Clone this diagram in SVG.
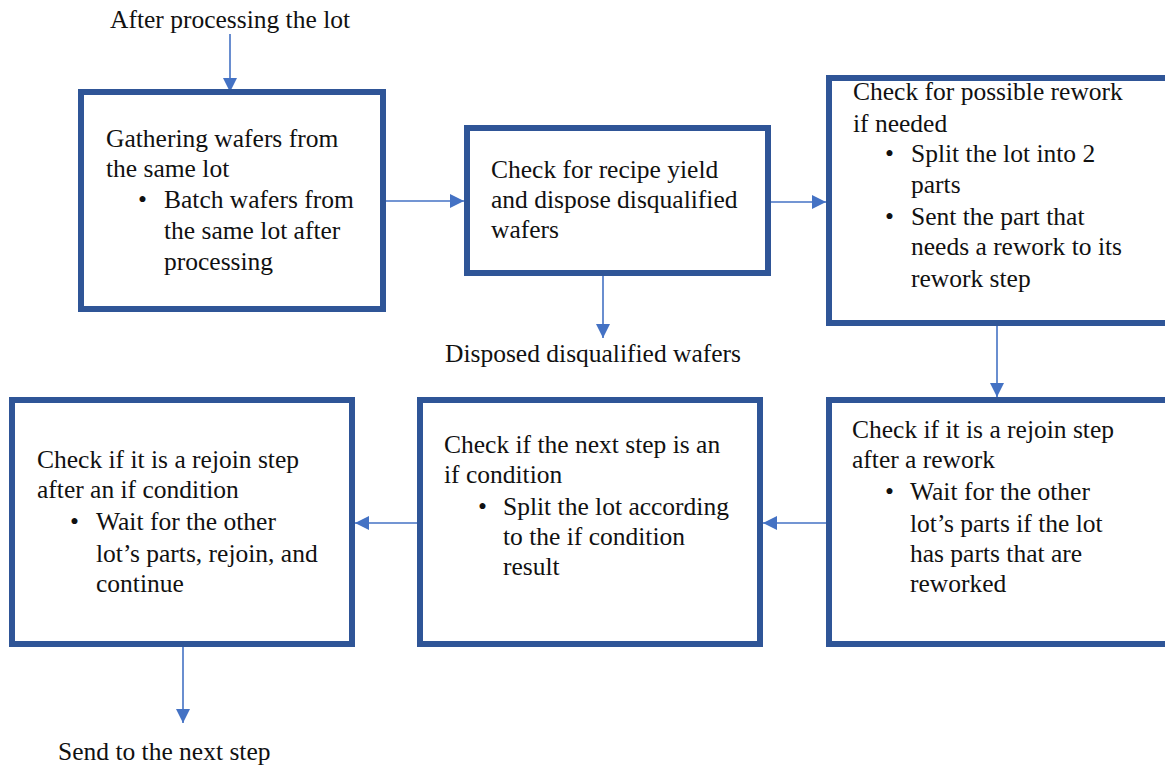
<svg xmlns="http://www.w3.org/2000/svg" width="1165" height="767" viewBox="0 0 1165 767">
<style>
.box{fill:#fff;stroke:#2F5597;stroke-width:6}
.t{font-family:"Liberation Serif","Times New Roman",serif;font-size:25.5px;fill:#111}
.c{stroke:#4472C4;stroke-width:1.6;fill:none}
</style>
<defs>
<marker id="ah" markerUnits="userSpaceOnUse" markerWidth="16" markerHeight="16" viewBox="0 0 16 16" refX="15" refY="8" orient="auto">
<path d="M1,1 L15,8 L1,15 Z" fill="#4472C4"/>
</marker>
</defs>
<rect width="1165" height="767" fill="#fff"/>
<g id="connectors">
<line class="c" x1="230" y1="34" x2="230" y2="92" marker-end="url(#ah)"/>
<line class="c" x1="386" y1="201" x2="464" y2="201" marker-end="url(#ah)"/>
<line class="c" x1="771" y1="202" x2="826" y2="202" marker-end="url(#ah)"/>
<line class="c" x1="603" y1="276" x2="603" y2="338" marker-end="url(#ah)"/>
<line class="c" x1="997" y1="326" x2="997" y2="397" marker-end="url(#ah)"/>
<line class="c" x1="826" y1="523" x2="763" y2="523" marker-end="url(#ah)"/>
<line class="c" x1="417" y1="523" x2="355" y2="523" marker-end="url(#ah)"/>
<line class="c" x1="183" y1="647" x2="183" y2="723" marker-end="url(#ah)"/>
</g>
<g id="label-start"><text class="t" x="110" y="28">After processing the lot</text></g>
<g id="box1">
<rect class="box" x="81" y="92" width="302" height="217"/>
<text class="t" x="106" y="147">Gathering wafers from</text>
<text class="t" x="106" y="177">the same lot</text>
<text class="t" x="138" y="208">•</text>
<text class="t" x="164" y="208">Batch wafers from</text>
<text class="t" x="164" y="239">the same lot after</text>
<text class="t" x="164" y="270">processing</text>
</g>
<g id="box2">
<rect class="box" x="467" y="128" width="301" height="145"/>
<text class="t" x="491" y="178">Check for recipe yield</text>
<text class="t" x="491" y="208">and dispose disqualified</text>
<text class="t" x="491" y="238">wafers</text>
</g>
<g id="label-disposed"><text class="t" x="445" y="362">Disposed disqualified wafers</text></g>
<g id="box3">
<rect class="box" x="829" y="78" width="340" height="245"/>
<text class="t" x="853" y="100">Check for possible rework</text>
<text class="t" x="853" y="132">if needed</text>
<text class="t" x="885" y="162">•</text>
<text class="t" x="911" y="162">Split the lot into 2</text>
<text class="t" x="911" y="193">parts</text>
<text class="t" x="885" y="225">•</text>
<text class="t" x="911" y="225">Sent the part that</text>
<text class="t" x="911" y="255">needs a rework to its</text>
<text class="t" x="911" y="287">rework step</text>
</g>
<g id="box4">
<rect class="box" x="829" y="400" width="340" height="244"/>
<text class="t" x="852" y="438">Check if it is a rejoin step</text>
<text class="t" x="852" y="468">after a rework</text>
<text class="t" x="885" y="500">•</text>
<text class="t" x="910" y="500">Wait for the other</text>
<text class="t" x="910" y="532">lot’s parts if the lot</text>
<text class="t" x="910" y="562">has parts that are</text>
<text class="t" x="910" y="592">reworked</text>
</g>
<g id="box5">
<rect class="box" x="420" y="400" width="340" height="244"/>
<text class="t" x="444" y="453">Check if the next step is an</text>
<text class="t" x="444" y="483">if condition</text>
<text class="t" x="478" y="515">•</text>
<text class="t" x="503" y="515">Split the lot according</text>
<text class="t" x="503" y="545">to the if condition</text>
<text class="t" x="503" y="575">result</text>
</g>
<g id="box6">
<rect class="box" x="12" y="400" width="340" height="244"/>
<text class="t" x="37" y="468">Check if it is a rejoin step</text>
<text class="t" x="37" y="498">after an if condition</text>
<text class="t" x="70" y="530">•</text>
<text class="t" x="96" y="530">Wait for the other</text>
<text class="t" x="96" y="562">lot’s parts, rejoin, and</text>
<text class="t" x="96" y="592">continue</text>
</g>
<g id="label-end"><text class="t" x="58" y="760">Send to the next step</text></g>
</svg>
